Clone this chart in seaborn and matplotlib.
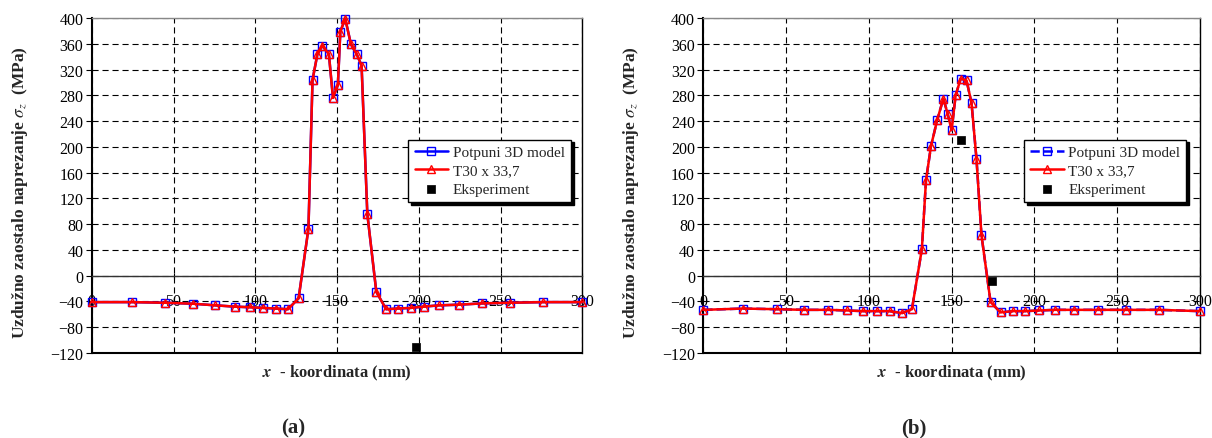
import numpy as np
import pandas as pd
import seaborn as sns
import matplotlib.pyplot as plt

# panel (a)
x_a = [0, 24.5, 45, 62, 75.5, 87.5, 97, 105, 112.5, 120, 126.5, 132.5, 135, 138, 141,
       145, 147.5, 150.5, 152, 155, 158.5, 162, 165, 168.5, 174, 180, 187, 195, 203,
       212.5, 224.5, 238.5, 255.5, 276, 300]
model_a = [-41, -41, -42, -43.5, -46, -48, -49, -50, -51, -52, -35, 73, 304, 344, 357,
           344, 276, 296, 379, 399, 359, 344, 326, 96, -25, -52, -51, -50, -48, -46,
           -45, -43, -42, -41, -41]
t30_a = [-41, -41, -42, -43.5, -46, -48, -49, -50, -51, -52, -35, 73, 304, 344, 357,
         344, 276, 296, 379, 399, 359, 344, 326, 96, -25, -52, -51, -50, -48, -46,
         -45, -43, -42, -41, -41]
exp_x_a = [198]
exp_y_a = [-110]

# panel (b)
x_b = [0, 24, 44.5, 61, 75.5, 87, 96.5, 105, 112.5, 120, 126, 132, 134.5, 137.5, 141.3,
       145, 147.6, 150, 152.4, 155.5, 159, 162, 165, 168, 173.5, 179.5, 187, 194.5,
       202.5, 212.5, 224, 238.5, 255.5, 275, 300]
model_b = [-53, -51, -52, -53, -53, -54, -55, -55, -55, -58, -52, 41, 148, 201, 242,
           275, 251, 226, 280, 306, 303, 268, 181, 63, -41, -57, -55, -55, -54, -53,
           -53, -53, -53, -53, -55]
t30_b = [-53, -51, -52, -53, -53, -54, -55, -55, -55, -58, -52, 41, 148, 201, 242,
         275, 251, 226, 280, 306, 303, 268, 181, 63, -41, -57, -55, -55, -54, -53,
         -53, -53, -53, -53, -55]
exp_x_b = [155.4, 174.5]
exp_y_b = [211, -9]

y_ticks = list(range(-120, 401, 40))
x_ticks = list(range(0, 301, 50))

sns.set_theme(style="white")
plt.rcParams["font.family"] = ["Liberation Serif", "DejaVu Serif"]
plt.rcParams["mathtext.fontset"] = "stix"

fig = plt.figure(figsize=(12.12, 4.39), dpi=100)
ax_a = fig.add_axes([0.0757, 0.1936, 0.4048, 0.7631])
ax_b = fig.add_axes([0.5803, 0.1936, 0.4098, 0.7631])


def draw_panel(ax, x, model, t30, ex, ey, blue_ls, tag, tag_x):
    df = pd.DataFrame({"x": x, "model": model, "t30": t30})
    sns.lineplot(ax=ax, data=df, x="x", y="model", color="blue", linewidth=1.8,
                 linestyle=blue_ls, marker="s", markersize=6,
                 markerfacecolor="none", markeredgecolor="blue", markeredgewidth=1.0,
                 label="Potpuni 3D model", clip_on=False, zorder=3)
    sns.lineplot(ax=ax, data=df, x="x", y="t30", color="red", linewidth=1.8,
                 marker="^", markersize=5.5, markerfacecolor="none",
                 markeredgecolor="red", markeredgewidth=1.0,
                 label="T30 x 33,7", clip_on=False, zorder=4)
    sns.scatterplot(ax=ax, x=ex, y=ey, color="black", marker="s", s=40,
                    edgecolor="black", label="Eksperiment", zorder=5)

    ax.set_xlim(0, 300)
    ax.set_ylim(-120, 400)
    ax.set_xticks(x_ticks)
    ax.set_yticks(y_ticks)
    ax.grid(True, color="black", linestyle=(0, (5.5, 3.5)), linewidth=0.8)
    ax.set_axisbelow(True)

    ax.spines["bottom"].set_position(("data", 0))
    ax.spines["bottom"].set_color("#333333")
    ax.spines["bottom"].set_linewidth(1.0)
    ax.spines["left"].set_color("black")
    ax.spines["left"].set_linewidth(1.5)
    ax.spines["right"].set_color("black")
    ax.spines["right"].set_linewidth(1.0)
    ax.spines["top"].set_color("#888888")
    ax.spines["top"].set_linewidth(1.0)
    ax.axhline(-120, color="black", linewidth=1.5, clip_on=False)

    ax.tick_params(axis="y", direction="out", length=4, width=0.8, pad=2,
                   labelsize=11.5, left=True, colors="black")
    ax.tick_params(axis="x", direction="inout", length=5, width=0.8, pad=10,
                   labelsize=11.5, bottom=True, colors="black")
    for lbl in ax.get_xticklabels():
        lbl.set_zorder(6)

    ax.set_xlabel("")
    ax.set_ylabel("")
    ax.text(0.5, -0.058, r"$\boldsymbol{x}$  - koordinata (mm)", transform=ax.transAxes,
            ha="center", va="center", fontsize=12, fontweight="bold")
    ax.text(-0.146, 0.483, r"Uzdužno zaostalo naprezanje $\mathit{\sigma}_{z}$  (MPa)",
            transform=ax.transAxes, ha="center", va="center", rotation=90,
            fontsize=12.5, fontweight="bold")

    ax.legend(loc="upper left", bbox_to_anchor=(0.63, 0.66), frameon=True,
              fancybox=False, framealpha=1, edgecolor="black", fontsize=11,
              shadow={"color": "black", "alpha": 1}, borderpad=0.4,
              handlelength=2.2, handletextpad=0.3, labelspacing=0.3)
    fig.text(tag_x, 0.025, tag, ha="center", va="center", fontsize=15, fontweight="bold")


draw_panel(ax_a, x_a, model_a, t30_a, exp_x_a, exp_y_a, "-", "(a)", 0.242)
draw_panel(ax_b, x_b, model_b, t30_b, exp_x_b, exp_y_b, "--", "(b)", 0.754)

fig.savefig("out.png", dpi=100)
